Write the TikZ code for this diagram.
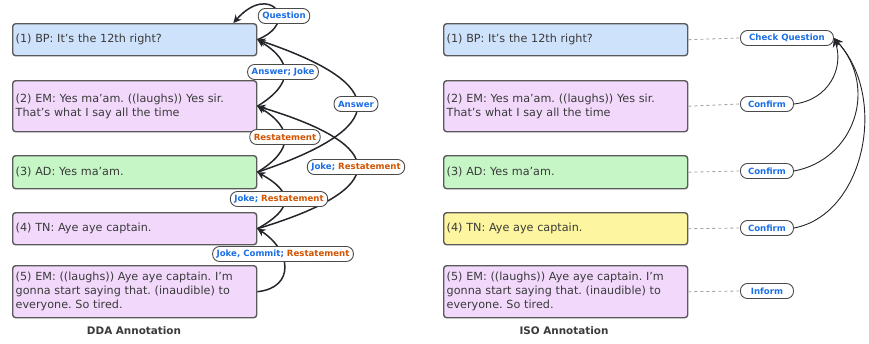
\documentclass[tikz,border=0pt]{standalone}
\usepackage{fontspec}
\setmainfont{DejaVu Sans}
\usepackage{tikz}
\usetikzlibrary{arrows.meta}
\usetikzlibrary{positioning}
\frenchspacing
\definecolor{uttblue}{HTML}{CFE2FC}
\definecolor{uttpink}{HTML}{F2D9FC}
\definecolor{uttgreen}{HTML}{C6F5C6}
\definecolor{uttyellow}{HTML}{FDF59F}
\definecolor{uttline}{HTML}{5A5A5A}
\definecolor{utttext}{HTML}{3A3A3A}
\definecolor{tagline}{HTML}{4A4A4A}
\definecolor{arrowc}{HTML}{23252B}
\definecolor{linkc}{HTML}{A0A0A0}
\definecolor{actblue}{HTML}{1A6EE6}
\definecolor{actorange}{HTML}{D35400}
\newcommand{\da}[1]{\textcolor{actblue}{#1}}
\newcommand{\re}[1]{\textcolor{actorange}{#1}}
\tikzset{
    utt/.style={draw=uttline, line width=1.4pt, rounded corners=3pt, anchor=north west,
        minimum width=244pt, text width=238pt, inner xsep=3pt, align=left,
        font=\fontsize{11.2}{14}\selectfont, text=utttext},
    tag/.style={draw=tagline, fill=white, line width=0.9pt, rounded corners=7pt,
        minimum height=15pt, inner xsep=4pt, inner ysep=1pt,
        font=\fontsize{8.6}{9}\bfseries\selectfont},
    dda/.style={draw=arrowc, line width=1.5pt, -{Stealth[length=8pt,width=8pt]}},
    iso/.style={draw=arrowc, line width=0.9pt, -{Stealth[length=9pt,width=8pt]}},
    link/.style={draw=linkc, dashed, line width=0.8pt},
    caption/.style={font=\fontsize{10.4}{12}\bfseries\selectfont, text=utttext},
}

\begin{document}
\begin{tikzpicture}[x=1pt, y=-1pt]
\useasboundingbox (0,0) rectangle (869,343);
% DDA side
\node[utt, fill=uttblue,  minimum height=32pt] (u1) at (12,23)  {(1) BP: It’s the 12th right?};
\node[utt, fill=uttpink,  minimum height=51pt] (u2) at (12,80)  {(2) EM: Yes ma’am. ((laughs)) Yes sir.\\That’s what I say all the time};
\node[utt, fill=uttgreen, minimum height=33pt] (u3) at (12,155) {(3) AD: Yes ma’am.};
\node[utt, fill=uttpink,  minimum height=32pt] (u4) at (12,212) {(4) TN: Aye aye captain.};
\node[utt, fill=uttpink,  minimum height=52pt] (u5) at (12,265) {(5) EM: ((laughs)) Aye aye captain. I’m\\gonna start saying that. (inaudible) to\\everyone. So tired.};

\draw[dda] (u1.east) .. controls +(44,-18) and +(36,-41) .. ([xshift=-24pt]u1.north east);
\draw[dda] (u2.east) .. controls +(36,-22) and +(36,22) .. (u1.east);
\draw[dda] (u3.east) .. controls +(133,-45) and +(133,45) .. (u1.east);
\draw[dda] (u3.east) .. controls +(36,-22) and +(36,22) .. (u2.east);
\draw[dda] (u4.east) .. controls +(133,-40) and +(133,40) .. (u2.east);
\draw[dda] (u4.east) .. controls +(36,-20) and +(36,20) .. (u3.east);
\draw[dda] (u5.east) .. controls +(38,-4) and +(34,22) .. (u4.east);

\node[tag] (q) at (284,16)  {\da{Question}};
\node[tag] (a1) at (283,72) {\da{Answer; Joke}};
\node[tag] (a2) at (356,104) {\da{Answer}};
\node[tag] (r1) at (285,137) {\re{Restatement}};
\node[tag] (r2) at (356,167) {\da{Joke;} \re{Restatement}};
\node[tag] (r3) at (279,199) {\da{Joke;} \re{Restatement}};
\node[tag] (r4) at (283,254) {\da{Joke, Commit;} \re{Restatement}};

\node[caption] (t1) at (134,331) {DDA Annotation};

% ISO side
\node[utt, fill=uttblue,   minimum height=32pt] (v1) at (443,23)  {(1) BP: It’s the 12th right?};
\node[utt, fill=uttpink,   minimum height=51pt] (v2) at (443,80)  {(2) EM: Yes ma’am. ((laughs)) Yes sir.\\That’s what I say all the time};
\node[utt, fill=uttgreen,  minimum height=33pt] (v3) at (443,155) {(3) AD: Yes ma’am.};
\node[utt, fill=uttyellow, minimum height=32pt] (v4) at (443,212) {(4) TN: Aye aye captain.};
\node[utt, fill=uttpink,   minimum height=52pt] (v5) at (443,265) {(5) EM: ((laughs)) Aye aye captain. I’m\\gonna start saying that. (inaudible) to\\everyone. So tired.};

\node[tag, anchor=west, minimum width=93pt] (c1) at (740,38)  {\da{Check Question}};
\node[tag, anchor=west, minimum width=53pt] (c2) at (740,104) {\da{Confirm}};
\node[tag, anchor=west, minimum width=53pt] (c3) at (740,171) {\da{Confirm}};
\node[tag, anchor=west, minimum width=53pt] (c4) at (740,228) {\da{Confirm}};
\node[tag, anchor=west, minimum width=53pt] (c5) at (740,291) {\da{Inform}};

\foreach \i in {1,...,5}
    \draw[link] (v\i.east) -- (c\i.west);

\draw[iso] (c2.east) .. controls +(35,-4) and +(10,30) .. (c1.east);
\draw[iso] (c3.east) .. controls +(60,-11) and +(45,50) .. (c1.east);
\draw[iso] (c4.east) .. controls +(70,-13) and +(55,60) .. (c1.east);

\node[caption] (t2) at (564,331) {ISO Annotation};
\end{tikzpicture}
\end{document}
